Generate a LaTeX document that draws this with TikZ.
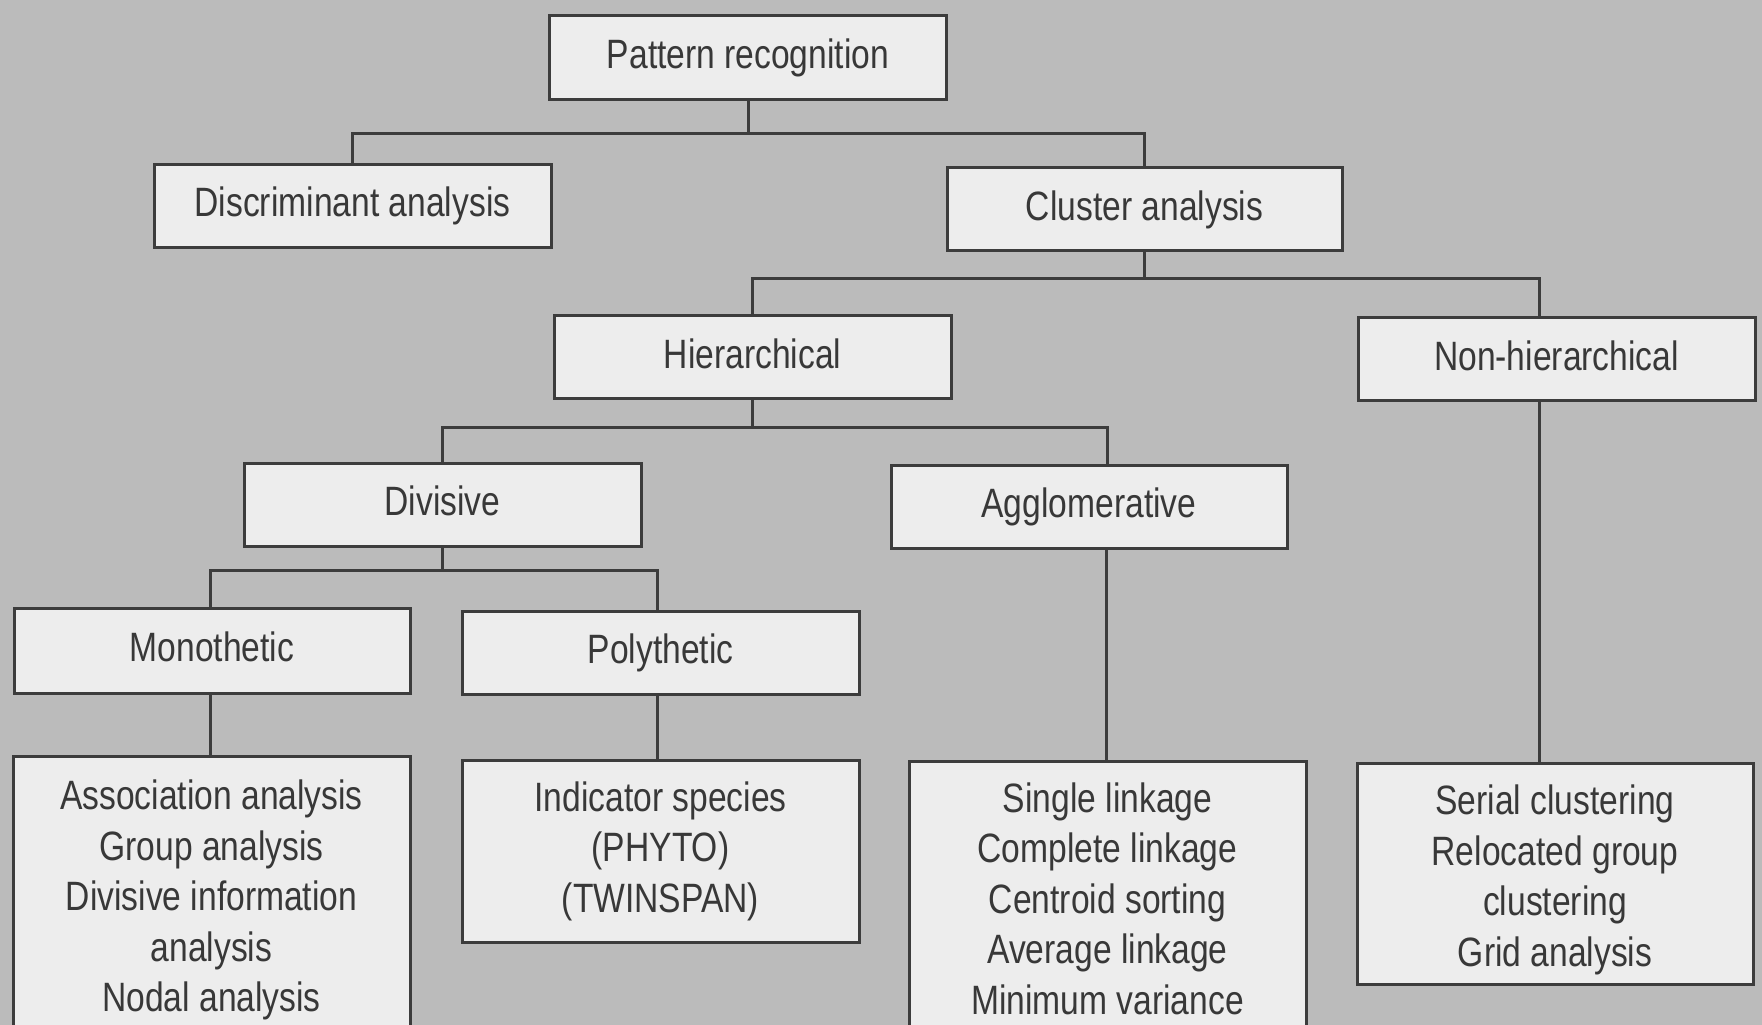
\documentclass[tikz,border=0pt]{standalone}
\usepackage{fontspec}
\setmainfont{Liberation Sans}[FakeStretch=0.82]
\usetikzlibrary{calc}
\definecolor{bg}{HTML}{BBBBBB}
\definecolor{boxfill}{HTML}{EDEDED}
\definecolor{ink}{HTML}{3C3C3C}
\definecolor{txt}{HTML}{383838}
\begin{document}
\begin{tikzpicture}[x=1pt,y=-1pt,
  box/.style={draw=ink, line width=3pt, fill=boxfill, inner sep=0pt, text=txt,
    font=\fontsize{41}{50.5}\selectfont, minimum width=397pt},
  one/.style={box, minimum height=83pt, text height=30pt, text depth=8pt},
  multi/.style={box, align=center},
  link/.style={draw=ink, line width=3pt, line join=miter}]
\fill[bg] (0,0) rectangle (1762,1025);
\useasboundingbox (0,0) rectangle (1762,1025);
\clip (0,0) rectangle (1762,1025);

\node[one] (pr) at (748,57.5) {Pattern recognition};
\node[one] (da) at (352.5,205.5) {Discriminant analysis};
\node[one, minimum width=395pt] (ca) at (1144.5,209) {Cluster analysis};
\node[one] (hi) at (752.5,357) {Hierarchical};
\node[one] (nh) at (1556.5,359) {Non-hierarchical};
\node[one] (dv) at (442.5,504.5) {Divisive};
\node[one, minimum width=396pt] (ag) at (1089,506.5) {Agglomerative};
\node[one, minimum width=396pt, minimum height=85pt] (mo) at (212,650.5) {Monothetic};
\node[one] (po) at (660.5,652.5) {Polythetic};
\node[multi, minimum height=288.6pt] (as) at (211.5,900.3)
  {Association analysis\\Group analysis\\Divisive information\\analysis\\Nodal analysis};
\node[multi, minimum height=182pt] (in) at (660.5,851)
  {Indicator species\\(PHYTO)\\(TWINSPAN)};
\node[multi, minimum height=275.4pt] (sl) at (1107.5,898.7)
  {Single linkage\\Complete linkage\\Centroid sorting\\Average linkage\\Minimum variance};
\node[multi, minimum height=221pt, minimum width=396pt] (se) at (1555,873.5)
  {\rule{0pt}{42pt}Serial clustering\\Relocated group\\clustering\\Grid analysis};

\coordinate (j1) at ($(pr.south)+(0,33)$);
\coordinate (j2) at ($(ca.south)+(0,26)$);
\coordinate (j3) at ($(hi.south)+(0,27)$);
\coordinate (j4) at ($(dv.south)+(0,23)$);

\draw[link] (pr.south) -- (j1);
\draw[link] (da.north) |- (j1) -| (ca.north);
\draw[link] (ca.south) -- (j2);
\draw[link] (hi.north) |- (j2) -| ($(nh.north)+(-17.5,0)$);
\draw[link] (hi.south) -- (j3);
\draw[link] (dv.north) |- (j3) -| ($(ag.north)+(18,0)$);
\draw[link] (dv.south) -- (j4);
\draw[link] ($(mo.north)+(-2,0)$) |- (j4) -| ($(po.north)+(-3.5,0)$);
\draw[link] ($(mo.south)+(-2,0)$) -- ($(as.north)+(-1.5,0)$);
\draw[link] ($(po.south)+(-3.5,0)$) -- ($(in.north)+(-3.5,0)$);
\draw[link] ($(ag.south)+(17,0)$) -- ($(sl.north)+(-1.5,0)$);
\draw[link] ($(nh.south)+(-17.5,0)$) -- ($(se.north)+(-16,0)$);
\end{tikzpicture}
\end{document}
